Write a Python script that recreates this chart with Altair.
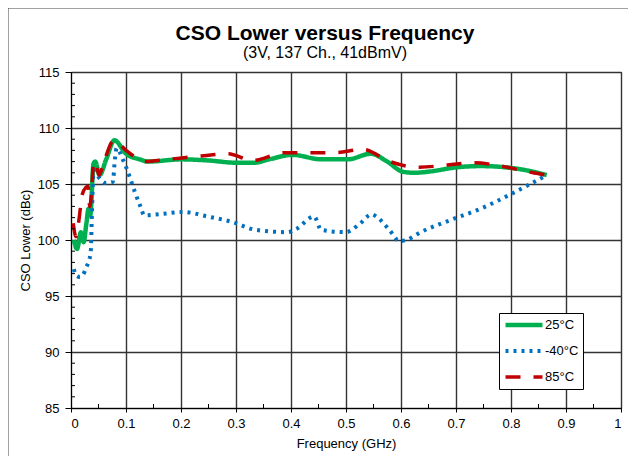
import altair as alt
import pandas as pd

# ---------------- data ----------------
series_names = ["25°C", "-40°C", "85°C"]
series_colors = ["#00B050", "#0070C0", "#C00000"]

freq_25 = [0.005, 0.011, 0.018, 0.023, 0.028, 0.032, 0.035, 0.041, 0.044, 0.052,
           0.064, 0.079, 0.1, 0.125, 0.14, 0.2, 0.25, 0.3, 0.333, 0.36, 0.403,
           0.455, 0.503, 0.545, 0.575, 0.603, 0.624, 0.65, 0.703, 0.745, 0.806,
           0.84, 0.865]
cso_25 = [100.0, 99.2, 100.7, 99.8, 101.5, 102.8, 102.2, 106.8, 107.0, 105.8,
          107.2, 108.9, 107.7, 107.2, 107.0, 107.2, 107.1, 106.9, 106.9, 107.2, 107.6,
          107.2, 107.2, 107.7, 107.0, 106.1, 106.0, 106.1, 106.5, 106.6, 106.4,
          106.1, 105.8]

freq_m40 = [0.005, 0.01, 0.016, 0.022, 0.028, 0.033, 0.036, 0.038, 0.041, 0.052,
            0.062, 0.076, 0.08, 0.083, 0.089, 0.095, 0.101, 0.107, 0.116, 0.127,
            0.133, 0.16, 0.205, 0.248, 0.294, 0.336, 0.394, 0.41, 0.442, 0.455,
            0.5, 0.524, 0.547, 0.555, 0.579, 0.597, 0.61, 0.636, 0.691, 0.745,
            0.8, 0.839, 0.865]
cso_m40 = [97.4, 96.8, 96.7, 96.9, 97.6, 98.2, 99.0, 102.3, 106.2, 105.5,
           105.1, 105.2, 107.3, 108.2, 107.8, 107.1, 106.4, 105.6, 104.3, 102.9,
           102.2, 102.3, 102.5, 102.1, 101.6, 100.9, 100.7, 101.0, 102.1, 100.9,
           100.7, 101.4, 102.3, 102.1, 100.9, 99.9, 100.0, 100.7, 101.8, 102.8,
           104.1, 105.1, 105.8]

freq_85 = [0.004, 0.009, 0.015, 0.02, 0.027, 0.031, 0.034, 0.037, 0.041, 0.044,
           0.051, 0.06, 0.078, 0.1, 0.12, 0.133, 0.176, 0.236, 0.285, 0.33, 0.388,
           0.43, 0.48, 0.53, 0.58, 0.61, 0.634, 0.685, 0.733, 0.782, 0.84, 0.865]
cso_85 = [101.5, 100.3, 102.0, 104.0, 104.7, 104.8, 103.0, 104.0, 106.9, 107.0,
          105.8, 107.0, 108.9, 108.0, 107.3, 107.0, 107.2, 107.5, 107.7, 107.1, 107.8,
          107.8, 107.8, 108.1, 107.0, 106.6, 106.5, 106.7, 106.9, 106.6, 106.0, 105.8]

x_ticks = [0, 0.1, 0.2, 0.3, 0.4, 0.5, 0.6, 0.7, 0.8, 0.9, 1]
y_ticks = [85, 90, 95, 100, 105, 110, 115]
x_minor = [0.05, 0.15, 0.25, 0.35, 0.45, 0.55, 0.65, 0.75, 0.85, 0.95]
y_minor = [86, 87, 88, 89, 91, 92, 93, 94, 96, 97, 98, 99, 101, 102, 103, 104,
           106, 107, 108, 109, 111, 112, 113, 114]

title_text = "CSO Lower versus Frequency"
subtitle_text = "(3V, 137 Ch., 41dBmV)"

# ---------------- build table ----------------
rows = []
for name, fs, vs in [(series_names[0], freq_25, cso_25),
                     (series_names[1], freq_m40, cso_m40),
                     (series_names[2], freq_85, cso_85)]:
    for f, v in zip(fs, vs):
        rows.append({"Frequency": f, "CSO": v, "Temp": name})
df = pd.DataFrame(rows)

FONT = "Liberation Sans"
W, H = 550, 336

xscale = alt.Scale(domain=[0, 1], nice=False, zero=False)
yscale = alt.Scale(domain=[85, 115], nice=False, zero=False)

lines = alt.Chart(df).mark_line(interpolate="monotone", strokeCap="butt",
                                strokeJoin="round").encode(
    x=alt.X("Frequency:Q", scale=xscale,
            axis=alt.Axis(values=x_ticks, format=".1~f", title="Frequency (GHz)",
                          grid=True, tickSize=4, labelPadding=5, titlePadding=7,
                          titleFontWeight="normal")),
    y=alt.Y("CSO:Q", scale=yscale,
            axis=alt.Axis(values=y_ticks, title="CSO Lower (dBc)", grid=True,
                          tickSize=6, labelPadding=6, titlePadding=5,
                          titleFontWeight="normal")),
    color=alt.Color("Temp:N",
                    scale=alt.Scale(domain=series_names, range=series_colors),
                    legend=alt.Legend(title=None, orient="none", legendX=428,
                                      legendY=241, symbolType="stroke",
                                      symbolSize=1369, fillColor="white",
                                      strokeColor="black", padding=4,
                                      clipHeight=16,
                                      labelFontSize=13, labelFont=FONT,
                                      labelColor="black", rowPadding=10,
                                      labelOffset=0, symbolOffset=0)),
    strokeDash=alt.StrokeDash("Temp:N",
                              scale=alt.Scale(domain=series_names,
                                              range=[[1, 0], [3, 5], [15, 13]]),
                              legend=alt.Legend(title=None)),
    strokeWidth=alt.StrokeWidth("Temp:N",
                                scale=alt.Scale(domain=series_names, range=[4.5, 3.5, 4.5]),
                                legend=alt.Legend(title=None)),
    order=alt.Order("Temp:N", sort="ascending"),
)

ytick = alt.Chart(pd.DataFrame({"v": y_minor})).mark_rule(color="black", strokeWidth=1).encode(
    y=alt.Y("v:Q", scale=yscale),
    x=alt.value(0), x2=alt.value(4),
)
xtick = alt.Chart(pd.DataFrame({"f": x_minor})).mark_rule(color="black", strokeWidth=1).encode(
    x=alt.X("f:Q", scale=xscale),
    y=alt.value(H - 4), y2=alt.value(H),
)

frame_src = pd.DataFrame({"a": [0]})
frame_top = alt.Chart(frame_src).mark_rule(color="#444", strokeWidth=1).encode(
    x=alt.value(-63), x2=alt.value(580), y=alt.value(-64), y2=alt.value(-64))
frame_left = alt.Chart(frame_src).mark_rule(color="#444", strokeWidth=1).encode(
    x=alt.value(-63), x2=alt.value(-63), y=alt.value(-64), y2=alt.value(400))

title_mark = alt.Chart(pd.DataFrame({"t": [title_text]})).mark_text(
    font=FONT, fontSize=21, fontWeight="bold", color="black", align="center",
    baseline="alphabetic").encode(text="t:N", x=alt.value(254), y=alt.value(-32))
subtitle_mark = alt.Chart(pd.DataFrame({"t": [subtitle_text]})).mark_text(
    font=FONT, fontSize=16, color="black", align="center",
    baseline="alphabetic").encode(text="t:N", x=alt.value(254), y=alt.value(-14))

chart = alt.layer(lines, ytick, xtick, frame_top, frame_left,
                  title_mark, subtitle_mark).properties(
    width=W, height=H,
    background="white",
    padding={"left": 63, "top": 64, "right": 7, "bottom": 48},
    autosize=alt.AutoSizeParams(type="none"),
).configure_view(stroke="black", strokeWidth=1).configure_axis(
    labelFont=FONT, titleFont=FONT, labelFontSize=13, titleFontSize=13,
    titleFontWeight="normal", labelColor="black", titleColor="black",
    domainColor="black", tickColor="black", gridColor="#333", gridWidth=1.4,
    gridOpacity=1,
)

chart.save("out.html", embed_options={"renderer": "svg", "actions": False})
